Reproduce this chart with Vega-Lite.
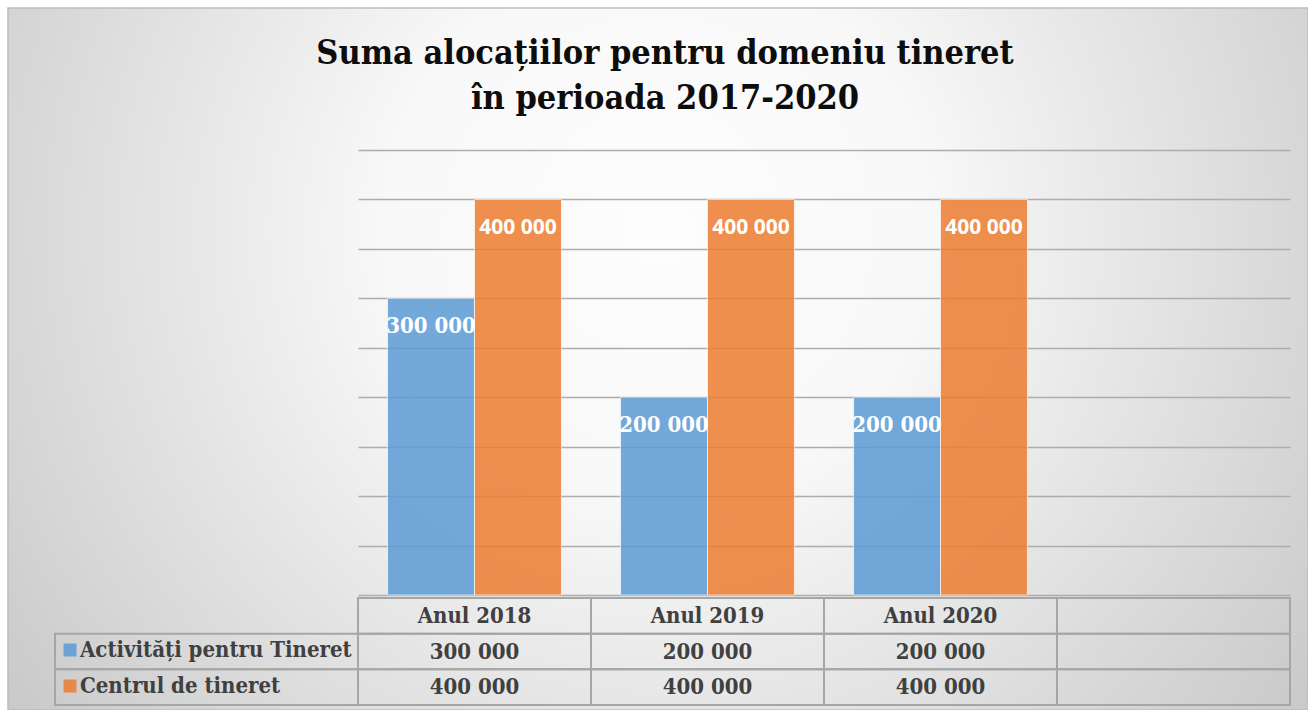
{
  "$schema": "https://vega.github.io/schema/vega-lite/v6.json",
  "width": 1300,
  "height": 702,
  "autosize": {"type": "none"},
  "padding": {"left": 8, "top": 8, "right": 0, "bottom": 0},
  "background": "#ffffff",
  "title": {
    "text": ["Suma alocațiilor pentru domeniu tineret", "în perioada 2017-2020"],
    "font": "DejaVu Serif Condensed, Liberation Serif, serif",
    "fontSize": 34,
    "fontWeight": "bold",
    "color": "#0d0d0d",
    "anchor": "middle",
    "frame": "group",
    "lineHeight": 45,
    "offset": -108,
    "dx": 7
  },
  "config": {
    "locale": {"number": {"decimal": ",", "thousands": " ", "grouping": [3], "currency": ["", ""]}},
    "view": {
      "stroke": "#bdbdbd",
      "strokeWidth": 1.5,
      "fill": {
        "gradient": "radial",
        "x1": 0.5, "y1": 0.4, "r1": 0,
        "x2": 0.5, "y2": 0.4, "r2": 0.7,
        "stops": [
          {"offset": 0, "color": "#fdfdfd"},
          {"offset": 0.3, "color": "#f8f8f8"},
          {"offset": 1, "color": "#c0c0c0"}
        ]
      }
    }
  },
  "datasets": {
    "cells": [
      {"year": "Anul 2018", "series": "header"},
      {"year": "Anul 2018", "series": "Activități pentru Tineret", "value": 300000},
      {"year": "Anul 2018", "series": "Centrul de tineret", "value": 400000},
      {"year": "Anul 2019", "series": "header"},
      {"year": "Anul 2019", "series": "Activități pentru Tineret", "value": 200000},
      {"year": "Anul 2019", "series": "Centrul de tineret", "value": 400000},
      {"year": "Anul 2020", "series": "header"},
      {"year": "Anul 2020", "series": "Activități pentru Tineret", "value": 200000},
      {"year": "Anul 2020", "series": "Centrul de tineret", "value": 400000},
      {"year": "", "series": "header"},
      {"year": "", "series": "Activități pentru Tineret"},
      {"year": "", "series": "Centrul de tineret"}
    ]
  },
  "data": {"name": "cells"},
  "layer": [
    {
      "transform": [{"filter": "isValid(datum.value)"}],
      "encoding": {
        "x": {
          "field": "year", "type": "nominal", "sort": null,
          "scale": {"domain": ["Anul 2018", "Anul 2019", "Anul 2020", ""], "range": [350, 1282], "paddingInner": 0, "paddingOuter": 0},
          "axis": null
        },
        "xOffset": {
          "field": "series", "type": "nominal",
          "scale": {"domain": ["Activități pentru Tineret", "Centrul de tineret"], "paddingOuter": 0.34, "paddingInner": 0}
        },
        "y": {
          "field": "value", "type": "quantitative",
          "scale": {"domain": [0, 450000], "range": [587, 142], "nice": false},
          "axis": {
            "grid": true, "labels": false, "ticks": false, "domain": false, "title": null,
            "values": [0, 50000, 100000, 150000, 200000, 250000, 300000, 350000, 400000, 450000],
            "gridColor": "#adadad", "gridWidth": 1.3
          }
        }
      },
      "layer": [
        {
          "mark": {"type": "bar", "opacity": 0.85, "stroke": "#ffffff", "strokeWidth": 1, "strokeOpacity": 0.7},
          "encoding": {
            "color": {
              "field": "series", "type": "nominal",
              "scale": {"domain": ["Activități pentru Tineret", "Centrul de tineret"], "range": ["#5B9BD5", "#ED7D31"]},
              "legend": {
                "orient": "none", "legendX": 51, "legendY": 631, "title": null,
                "symbolType": "square", "symbolSize": 169, "symbolStrokeWidth": 0,
                "labelFont": "DejaVu Serif Condensed, Liberation Serif, serif",
                "labelFontSize": 22, "labelFontWeight": "bold", "labelColor": "#404040",
                "labelOffset": -1, "rowPadding": 14, "padding": 0, "labelLimit": 400
              }
            }
          }
        },
        {
          "transform": [{"filter": "datum.series == 'Activități pentru Tineret'"}],
          "mark": {"type": "text", "color": "#ffffff", "font": "DejaVu Serif Condensed, Liberation Serif, serif", "fontSize": 22, "fontWeight": "bold", "baseline": "alphabetic", "dy": 35},
          "encoding": {"text": {"field": "value", "type": "quantitative", "format": ",d"}}
        },
        {
          "transform": [{"filter": "datum.series == 'Centrul de tineret'"}],
          "mark": {"type": "text", "color": "#ffffff", "font": "Open Sans", "fontSize": 21, "fontWeight": "bold", "baseline": "alphabetic", "dy": 35},
          "encoding": {"text": {"field": "value", "type": "quantitative", "format": ",d"}}
        }
      ]
    },
    {
      "encoding": {
        "x": {
          "field": "year", "type": "nominal", "sort": null,
          "scale": {"domain": ["Anul 2018", "Anul 2019", "Anul 2020", ""], "range": [350, 1282], "paddingInner": 0, "paddingOuter": 0},
          "axis": null
        },
        "y": {
          "field": "series", "type": "nominal", "sort": null,
          "scale": {"domain": ["header", "Activități pentru Tineret", "Centrul de tineret"], "range": [590, 697], "paddingInner": 0, "paddingOuter": 0},
          "axis": null
        }
      },
      "layer": [
        {"mark": {"type": "rect", "fill": null, "stroke": "#a6a6a6", "strokeWidth": 2}},
        {
          "transform": [{"filter": "datum.series == 'header'"}],
          "mark": {"type": "text", "color": "#404040", "font": "DejaVu Serif Condensed, Liberation Serif, serif", "fontSize": 22, "fontWeight": "bold"},
          "encoding": {"text": {"field": "year", "type": "nominal"}}
        },
        {
          "transform": [{"filter": "isValid(datum.value)"}],
          "mark": {"type": "text", "color": "#404040", "font": "DejaVu Serif Condensed, Liberation Serif, serif", "fontSize": 22, "fontWeight": "bold"},
          "encoding": {"text": {"field": "value", "type": "quantitative", "format": ",d"}}
        }
      ]
    },
    {
      "transform": [{"filter": "datum.year == 'Anul 2018' && datum.series != 'header'"}],
      "mark": {"type": "rect", "fill": null, "stroke": "#a6a6a6", "strokeWidth": 2},
      "encoding": {
        "x": {"datum": 0, "type": "quantitative", "scale": {"domain": [0, 1], "range": [47, 350]}, "axis": null},
        "x2": {"datum": 1},
        "y": {
          "field": "series", "type": "nominal", "sort": null,
          "scale": {"domain": ["header", "Activități pentru Tineret", "Centrul de tineret"], "range": [590, 697], "paddingInner": 0, "paddingOuter": 0},
          "axis": null
        }
      }
    }
  ],
  "resolve": {"scale": {"x": "independent", "y": "independent"}}
}
